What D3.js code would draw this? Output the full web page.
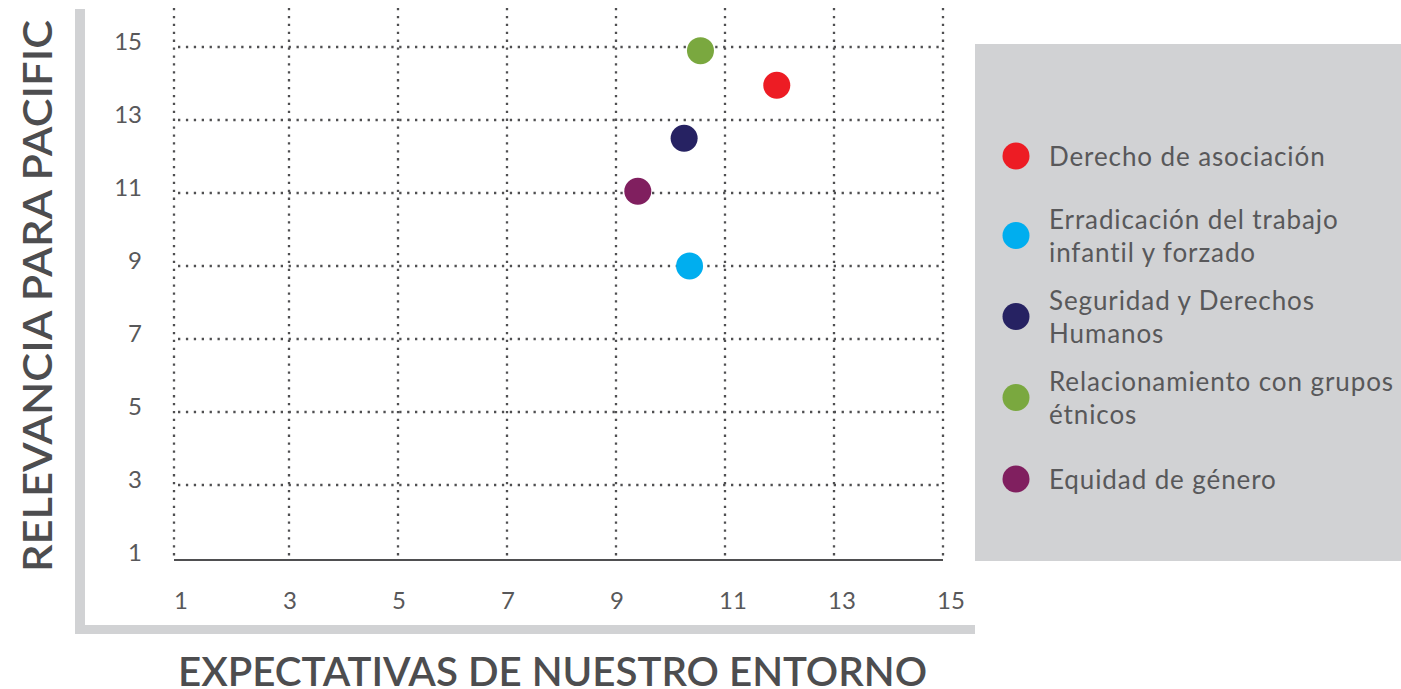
<!DOCTYPE html>
<html>
<head>
<meta charset="utf-8">
<script src="https://cdn.jsdelivr.net/npm/d3@7"></script>
<style>
  html, body { margin: 0; padding: 0; background: #ffffff; }
  svg { display: block; }
  text { font-family: Lato, "Noto Sans", sans-serif; }
</style>
</head>
<body>
<svg id="chart" width="1401" height="689"></svg>
<script>
// Topics plotted: expectation of the environment (x) vs relevance for Pacific (y)
const categories = [
  "Derecho de asociación",
  "Erradicación del trabajo infantil y forzado",
  "Seguridad y Derechos Humanos",
  "Relacionamiento con grupos étnicos",
  "Equidad de género"
];
const legendLines = [
  ["Derecho de asociación"],
  ["Erradicación del trabajo", "infantil y forzado"],
  ["Seguridad y Derechos", "Humanos"],
  ["Relacionamiento con grupos", "étnicos"],
  ["Equidad de género"]
];
const expectativas = [11.95, 10.35, 10.25, 10.55, 9.4];
const relevancia   = [13.95, 9.0, 12.5, 14.9, 11.05];
const colors = ["#ed1c24", "#00aeef", "#262262", "#7aa83f", "#801f5f"];
const xTicks = [1, 3, 5, 7, 9, 11, 13, 15];
const yTicks = [1, 3, 5, 7, 9, 11, 13, 15];
const xTitle = "EXPECTATIVAS DE NUESTRO ENTORNO";
const yTitle = "RELEVANCIA PARA PACIFIC";

const svg = d3.select("#chart");
const frameGrey = "#d1d2d4";
const ink = "#58585a";
const gridInk = "#4f4f51";

const x = d3.scaleLinear().domain([1, 15]).range([180, 943]);
const y = d3.scaleLinear().domain([1, 15]).range([558, 47]);

const plotLeft = 174, plotRight = 943, plotTop = 8, plotBottom = 560;

// grey L-shaped frame around the plot
svg.append("rect").attr("x", 75).attr("y", 9).attr("width", 10).attr("height", 625).attr("fill", frameGrey);
svg.append("rect").attr("x", 75).attr("y", 625).attr("width", 900).attr("height", 9).attr("fill", frameGrey);

// legend panel
svg.append("rect").attr("x", 975).attr("y", 44).attr("width", 426).attr("height", 517).attr("fill", frameGrey);

const grid = svg.append("g").attr("fill", "none").attr("stroke", gridInk)
  .attr("stroke-width", 2.3).attr("stroke-dasharray", "2.3,5.6");

// vertical dotted lines: plot edge plus every x tick except the first
grid.append("line").attr("x1", plotLeft).attr("x2", plotLeft).attr("y1", plotTop).attr("y2", plotBottom);
grid.selectAll("line.vx").data(xTicks.slice(1)).join("line").attr("class", "vx")
  .attr("x1", d => Math.round(x(d))).attr("x2", d => Math.round(x(d)))
  .attr("y1", plotTop).attr("y2", plotBottom);

// horizontal dotted lines
grid.selectAll("line.hy").data(yTicks.slice(1)).join("line").attr("class", "hy")
  .attr("x1", plotLeft + 4).attr("x2", plotRight)
  .attr("y1", d => Math.round(y(d))).attr("y2", d => Math.round(y(d)));

// solid baseline
svg.append("line").attr("x1", plotLeft).attr("x2", plotRight)
  .attr("y1", plotBottom).attr("y2", plotBottom)
  .attr("stroke", gridInk).attr("stroke-width", 2.2);

// x tick labels
svg.append("g").selectAll("text").data(xTicks).join("text")
  .attr("x", d => x(d) - 6).attr("y", 609)
  .attr("fill", ink).attr("font-size", 24).attr("text-anchor", "start")
  .text(d => d);

// y tick labels
svg.append("g").selectAll("text").data(yTicks).join("text")
  .attr("x", 142).attr("y", d => y(d) + 3)
  .attr("fill", ink).attr("font-size", 24).attr("text-anchor", "end")
  .text(d => d);

// axis titles
svg.append("text").attr("x", 178).attr("y", 686)
  .attr("text-anchor", "start").attr("fill", "#4d4d4f")
  .attr("font-size", 40).attr("font-weight", 600)
  .attr("textLength", 749).attr("lengthAdjust", "spacingAndGlyphs")
  .text(xTitle);

svg.append("text").attr("transform", "translate(52,296) rotate(-90)")
  .attr("text-anchor", "middle").attr("fill", "#4d4d4f")
  .attr("font-size", 40).attr("font-weight", 600)
  .attr("textLength", 552).attr("lengthAdjust", "spacingAndGlyphs")
  .text(yTitle);

// points
svg.append("g").selectAll("circle").data(categories).join("circle")
  .attr("cx", (d, i) => x(expectativas[i]))
  .attr("cy", (d, i) => y(relevancia[i]))
  .attr("r", 13.5)
  .attr("fill", (d, i) => colors[i]);

// legend entries
const legendY = [157, 236.5, 317.5, 398.5, 480];
const lg = svg.append("g");
categories.forEach((c, i) => {
  const lines = legendLines[i];
  const cy = legendY[i];
  lg.append("circle").attr("cx", 1016).attr("cy", cy - 1).attr("r", 13.5).attr("fill", colors[i]);
  const t = lg.append("text").attr("x", 1049).attr("fill", ink)
    .attr("font-size", 26).attr("letter-spacing", 0.9);
  const y0 = cy - (lines.length - 1) * 32.5 / 2 + 9;
  lines.forEach((ln, k) => {
    t.append("tspan").attr("x", 1049).attr("y", y0 + k * 32.5).text(ln);
  });
});
</script>
</body>
</html>
